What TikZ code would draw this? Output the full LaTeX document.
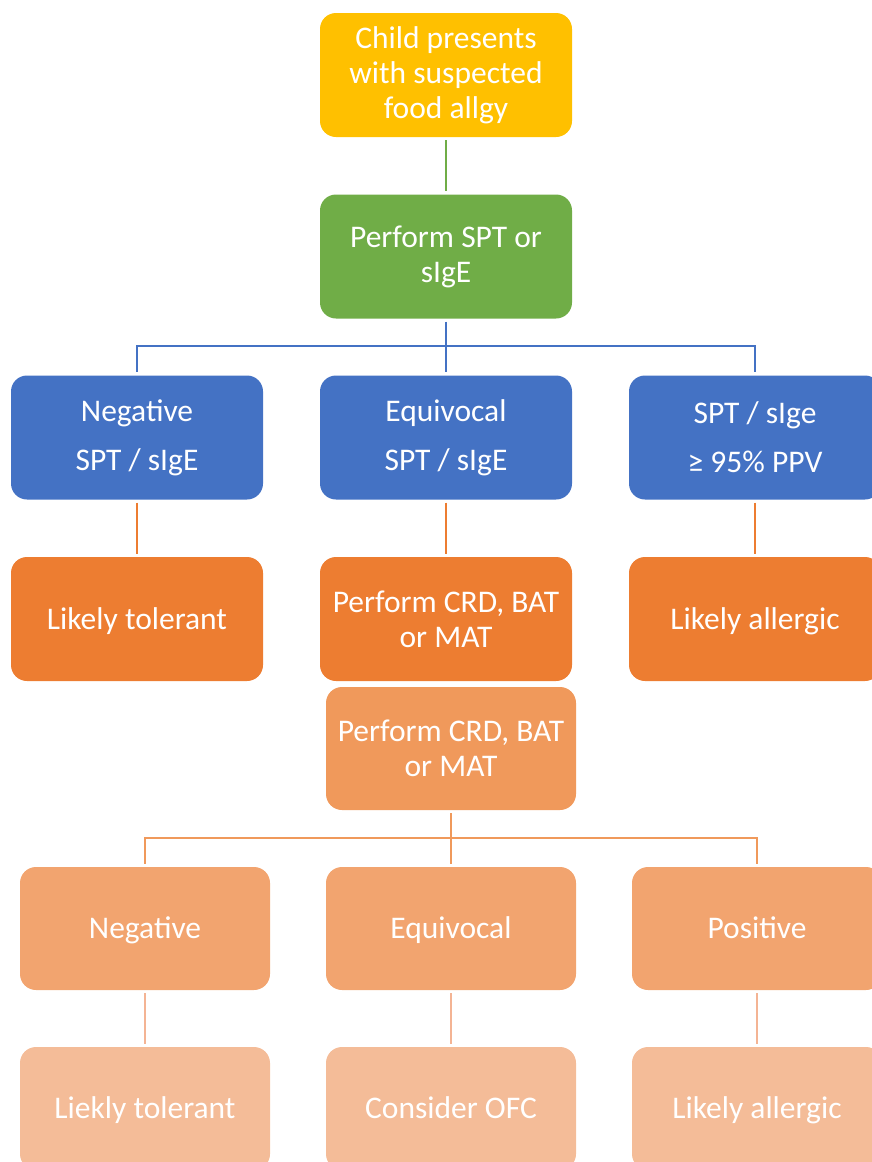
\documentclass[tikz,border=0pt]{standalone}
\usepackage{fontspec}
\setmainfont{Carlito}
\usetikzlibrary{positioning}
\definecolor{fayellow}{HTML}{FFC000}
\definecolor{fagreen}{HTML}{70AD47}
\definecolor{fablue}{HTML}{4472C4}
\definecolor{faorange}{HTML}{ED7D31}
\definecolor{faorangeb}{HTML}{F0995B}
\definecolor{faorangec}{HTML}{F2A46F}
\definecolor{faorangel}{HTML}{F4BC98}
\definecolor{falinel}{HTML}{F4B494}

\begin{document}
\begin{tikzpicture}[x=1pt, y=-1pt,
  stage/.style={rounded corners=16pt, minimum width=252pt, minimum height=124pt,
                text=white, align=center, inner sep=0pt,
                font=\fontsize{31.5}{35}\selectfont},
  low/.style={stage, minimum width=250pt, minimum height=123pt},
  twoline/.style={font=\fontsize{31.5}{49}\selectfont},
  oneline/.style={text height=20pt, text depth=0pt},
  link/.style={line width=2pt, shorten <=3pt, shorten >=3pt}
]
  \useasboundingbox (0,0) rectangle (871,1162);

  \node[stage, fill=fayellow] (child) at (446,75) {Child presents\\with suspected\\food allgy};
  \node[stage, fill=fagreen] (spt) at (446,256.5) {Perform SPT or\\sIgE};

  \node[stage, twoline, fill=fablue] (neg) at (137,437.5) {Negative\\SPT / sIgE};
  \node[stage, twoline, fill=fablue] (equ) at (446,437.5) {Equivocal\\SPT / sIgE};
  \node[stage, twoline, fill=fablue] (ppv) at (755,437.5) {SPT / sIge\\≥ 95\% PPV};

  \node[stage, oneline, fill=faorange] (tol) at (137,619) {Likely tolerant};
  \node[stage, fill=faorange] (crd) at (446,619) {Perform CRD, BAT\\or MAT};
  \node[stage, oneline, fill=faorange] (all) at (755,619) {Likely allergic};

  \node[low, fill=faorangeb] (crdb) at (451,748.5) {Perform CRD, BAT\\or MAT};

  \node[low, oneline, fill=faorangec] (negb) at (145,928.5) {Negative};
  \node[low, oneline, fill=faorangec] (equb) at (451,928.5) {Equivocal};
  \node[low, oneline, fill=faorangec] (posb) at (757,928.5) {Positive};

  \node[low, oneline, fill=faorangel] (tolb) at (145,1108.5) {Liekly tolerant};
  \node[low, oneline, fill=faorangel] (ofc) at (451,1108.5) {Consider OFC};
  \node[low, oneline, fill=faorangel] (allb) at (757,1108.5) {Likely allergic};

  \coordinate (fork1) at (446,346);
  \coordinate (fork2) at (451,838);

  \draw[link, fagreen] (child) -- (spt);
  \draw[link, fablue, shorten >=0pt] (spt) -- (fork1);
  \draw[link, fablue, shorten <=0pt] (fork1) -| (neg);
  \draw[link, fablue, shorten <=0pt] (fork1) -- (equ);
  \draw[link, fablue, shorten <=0pt] (fork1) -| (ppv);

  \draw[link, faorange] (neg) -- (tol);
  \draw[link, faorange] (equ) -- (crd);
  \draw[link, faorange] (ppv) -- (all);

  \draw[link, faorangeb, shorten >=0pt] (crdb) -- (fork2);
  \draw[link, faorangeb, shorten <=0pt] (fork2) -| (negb);
  \draw[link, faorangeb, shorten <=0pt] (fork2) -- (equb);
  \draw[link, faorangeb, shorten <=0pt] (fork2) -| (posb);

  \draw[link, falinel] (negb) -- (tolb);
  \draw[link, falinel] (equb) -- (ofc);
  \draw[link, falinel] (posb) -- (allb);
\end{tikzpicture}
\end{document}
